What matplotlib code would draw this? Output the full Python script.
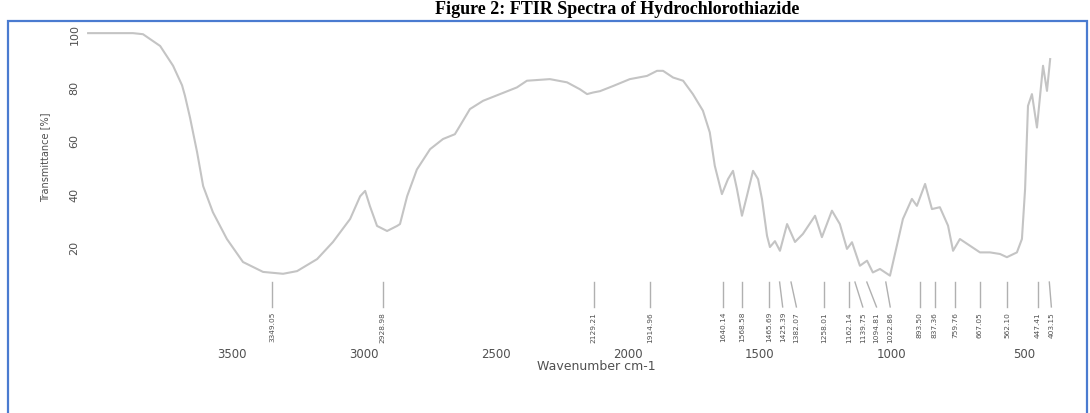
import matplotlib
matplotlib.use("Agg")
import matplotlib.pyplot as plt
from matplotlib.patches import Rectangle

# spectrum (wavenumber cm-1, transmittance %)
wavenumber = [4046, 3876, 3838, 3773, 3724, 3690, 3679, 3660, 3633, 3610, 3573, 3520, 3459,
              3383, 3307, 3254, 3178, 3118, 3053, 3015, 2996, 2978, 2951, 2913, 2875,
              2864, 2837, 2800, 2750, 2701, 2656, 2637, 2599, 2549, 2485, 2421, 2383,
              2296, 2231, 2182, 2155, 2132, 2106, 2057, 1993, 1928, 1890, 1867, 1829,
              1791, 1754, 1716, 1690, 1671, 1644, 1621, 1602, 1587, 1568, 1549, 1526,
              1507, 1492, 1473, 1462, 1443, 1424, 1397, 1367, 1337, 1291, 1265, 1227,
              1197, 1170, 1151, 1121, 1094, 1072, 1045, 1007, 981, 958, 924, 905,
              874, 848, 818, 787, 768, 742, 704, 666, 628, 590, 564, 526,
              507, 495, 484, 469, 450, 427, 412, 400]
transmittance = [100, 100, 99.6, 95.2, 87.8, 80.5, 76.6, 68.5, 55.5, 42.8, 33, 23, 14.4,
                 10.7, 10, 11, 15.5, 21.9, 30.5, 39, 41, 35.3, 27.9, 26, 27.9,
                 28.6, 39, 49, 56.6, 60.4, 62.2, 65.3, 71.6, 74.7, 77.2, 79.7, 82.2,
                 82.8, 81.6, 79, 77.2, 77.8, 78.3, 80.2, 82.8, 84, 85.9, 85.9, 83.4,
                 82.2, 77.2, 71, 62.9, 50.4, 39.8, 45.4, 48.5, 41.7, 31.7, 39.2, 48.5,
                 45.4, 37.9, 24.2, 20, 22.2, 18.6, 28.6, 21.9, 24.9, 31.7, 23.7, 33.6,
                 28.6, 19.3, 21.8, 13, 14.9, 10.5, 11.8, 9.3, 20.5, 30.5, 38, 35.4,
                 43.6, 34.2, 34.9, 28, 18.6, 23, 20.5, 18, 18, 17.4, 16.2, 18,
                 23, 41.7, 72.8, 77.2, 64.7, 87.8, 78.4, 90.3]

# labelled peaks
peaks = [3349.05, 2928.98, 2129.21, 1914.96, 1640.14, 1568.58, 1465.69, 1425.39,
         1382.07, 1258.01, 1162.14, 1139.75, 1094.81, 1022.86, 893.50, 837.36,
         759.76, 667.05, 562.10, 447.41, 403.15]

x_ticks = [3500, 3000, 2500, 2000, 1500, 1000, 500]
y_ticks = [20, 40, 60, 80, 100]

plt.rcParams['font.family'] = ['DejaVu Sans']
text_col = '#505050'

fig = plt.figure(figsize=(10.9, 4.14), dpi=100)
ax = fig.add_axes([0.078, 0.169, 0.899, 0.7705])

ax.plot(wavenumber, transmittance, color='#c4c4c4', linewidth=1.5)

ax.set_xlim(4057.7, 344)
ax.set_ylim(-15.9, 103.4)

# peak markers, labels pushed apart where they would collide
gap = 52
label_pos = []
prev = None
for p in peaks:
    pos = p if prev is None else min(p, prev - gap)
    label_pos.append(pos)
    prev = pos

for p, lp in zip(peaks, label_pos):
    ax.plot([p, lp], [6.9, -2.4], color='#b0b0b0', linewidth=1.0)
    ax.text(lp, -3.9, f"{p:.2f}", rotation=90, ha='center', va='top',
            fontsize=5.3, color=text_col)

ax.set_xticks(x_ticks)
ax.set_yticks(y_ticks)
ax.tick_params(axis='x', length=0, pad=2.5, labelsize=8.5, labelcolor=text_col)
ax.tick_params(axis='y', length=0, pad=4, labelsize=8, labelcolor=text_col)
for lbl in ax.get_yticklabels():
    lbl.set_rotation(90)
    lbl.set_va('center')

for s in ax.spines.values():
    s.set_visible(False)

ax.set_xlabel('Wavenumber cm-1', fontsize=9, color=text_col)
ax.xaxis.set_label_coords(0.522, -0.069)
ax.xaxis.label.set_va('center')
ax.set_ylabel('Transmittance [%]', fontsize=7, color=text_col)
ax.yaxis.set_label_coords(-0.041, 0.586)
ax.yaxis.label.set_va('center')

# screenshot frame and the caption above it
fig.patches.append(Rectangle((8 / 1090, -0.05), 1079 / 1090, 1 - 22 / 414 + 0.05,
                             transform=fig.transFigure, fill=False,
                             edgecolor='#4a7bd0', linewidth=1.6))
fig.text(617 / 1090, 1 - 14 / 414, 'Figure 2: FTIR Spectra of Hydrochlorothiazide',
         ha='center', va='baseline', fontsize=13, fontweight='bold',
         family='Liberation Serif', color='black')

fig.savefig('out.png', dpi=100)
